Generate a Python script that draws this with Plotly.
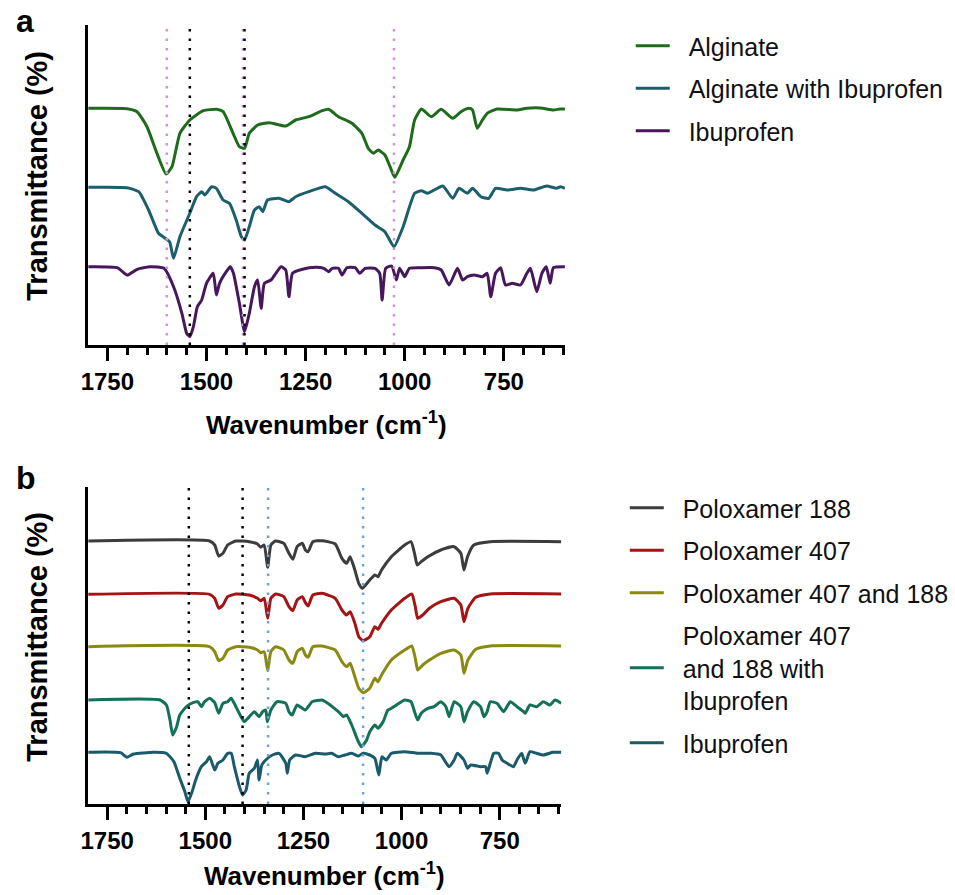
import plotly.graph_objects as go

# ---------------- Panel a data (wavenumber cm-1, offset transmittance, arbitrary units) -------------
alg_wn = [1800, 1700, 1675, 1650, 1625, 1602, 1587, 1567, 1542, 1508, 1475, 1458, 1433, 1417, 1404, 1392,
          1371, 1342, 1300, 1275, 1242, 1208, 1192, 1167, 1133, 1108, 1092, 1079, 1067, 1050, 1037, 1025,
          1004, 988, 975, 958, 933, 908, 879, 858, 838, 829, 817, 804, 792, 767, 717, 692, 658, 625, 608, 596]
alg_t = [236.7, 236.3, 233.3, 218.3, 191.7, 171, 178.3, 211.7, 225, 234.3, 235.7, 233.3, 211.7, 198.3, 196.7, 211.7,
         220, 222.3, 219, 225, 228.3, 234.3, 235.7, 228.3, 221.7, 211.7, 196.7, 191.7, 195, 190, 178.3, 167.7,
         185, 198.3, 225, 236, 228.3, 235.7, 226.7, 233.3, 236.7, 235, 216.7, 225, 231.7, 236, 235, 236.7, 237, 235, 236, 236]

algibu_wn = [1800, 1700, 1671, 1646, 1621, 1604, 1593, 1583, 1567, 1542, 1525, 1512, 1504, 1487, 1475, 1458,
             1442, 1425, 1412, 1404, 1392, 1379, 1367, 1358, 1346, 1317, 1292, 1275, 1242, 1200, 1175, 1142,
             1108, 1075, 1050, 1027, 1004, 975, 958, 942, 904, 879, 863, 842, 829, 808, 788, 771, 742, 708,
             675, 642, 617, 607, 596]
algibu_t = [157.7, 157.3, 153.3, 135, 111.7, 106.7, 103.3, 86.7, 108.3, 131.7, 148.3, 153.3, 150, 158.3, 156.7, 145,
            141.7, 125, 108.3, 105, 118.3, 135, 138.3, 133.3, 145, 146.7, 143.3, 148.3, 153.3, 158.3, 151.7, 143.3,
            131.7, 120, 113.3, 98.3, 118.3, 151.7, 154.3, 151.7, 159, 146.7, 156.7, 151.7, 156.7, 148.3, 146.7, 156.7,
            155, 156.7, 155, 159, 156.7, 158.3, 156.7]

ibu_a_wn = [1800, 1725, 1700, 1675, 1642, 1607, 1583, 1562, 1550, 1542, 1533, 1523, 1512, 1500, 1483, 1475,
            1467, 1450, 1440, 1432, 1417, 1404, 1392, 1379, 1371, 1362, 1354, 1337, 1325, 1312, 1300, 1292,
            1283, 1258, 1225, 1204, 1192, 1183, 1167, 1158, 1146, 1125, 1113, 1100, 1075, 1063, 1057, 1048,
            1033, 1021, 1013, 1000, 988, 958, 925, 908, 888, 867, 854, 842, 825, 804, 792, 783, 771, 758,
            746, 729, 708, 692, 683, 667, 654, 643, 633, 625, 596]
ibu_a_t = [78.3, 77.3, 70, 75.7, 78.3, 76.7, 58.3, 31.7, 11.7, 8.3, 18.3, 38.3, 45, 61.7, 71.7, 50,
           61.7, 73.3, 78.3, 71.7, 41.7, 13.3, 31.7, 58.3, 65, 36.7, 61.7, 65, 71.7, 78.3, 75, 48.3,
           71.7, 75.7, 77.7, 76.7, 73.3, 76.7, 76.7, 70, 77.3, 77.3, 71.7, 76.7, 76.7, 71.7, 45, 76.7,
           79, 65, 76.7, 68.3, 76.7, 77.3, 77.3, 75, 60, 76.7, 65, 68.3, 70, 68.3, 71.7, 48.3, 71.7, 77.3,
           60, 61.7, 60, 71.7, 76.7, 53.3, 71.7, 78.3, 61.7, 77.3, 78.3]

# reference lines (cm-1)
a_pink_lines = [1600, 1408, 1027]
a_black_lines = [1542, 1404]

# ---------------- Panel b data -------------
p188_wn = [1800, 1489, 1476, 1466, 1455, 1443, 1422, 1388, 1367, 1359, 1350, 1341, 1333, 1321, 1300, 1287,
           1277, 1266, 1253, 1245, 1238, 1226, 1203, 1169, 1152, 1140, 1131, 1119, 1109, 1100, 1081, 1068,
           1060, 1051, 1026, 992, 976, 967, 960, 950, 933, 900, 866, 849, 841, 832, 816, 774, 593]
p188_t = [263, 263, 259, 248, 250.7, 259, 263, 262.3, 260, 256.7, 259, 236.7, 259, 263, 260.7, 250.7,
          244.7, 257.3, 260.7, 254, 252.3, 262.3, 263.3, 260, 245.7, 240.7, 247.3, 234, 220.7, 215.7, 224, 229,
          227.3, 234, 247.3, 259, 262.3, 250.7, 239, 242.3, 247.3, 254, 257.3, 250.7, 234, 247.3, 259, 262.3, 262.3]

p407_wn = [1800, 1489, 1476, 1466, 1455, 1443, 1422, 1388, 1367, 1359, 1350, 1341, 1333, 1321, 1300, 1287,
           1277, 1266, 1253, 1245, 1238, 1226, 1203, 1169, 1152, 1140, 1131, 1119, 1109, 1098, 1081, 1068,
           1060, 1051, 1026, 992, 974, 965, 959, 946, 929, 900, 866, 849, 841, 831, 811, 774, 593]
p407_t = [209.7, 209.7, 205.7, 195.7, 199, 207.3, 210, 209, 205.7, 203.3, 205.7, 185.7, 205.7, 210, 207.3, 197.3,
          193.3, 204, 207.3, 201.3, 198, 209, 210.7, 205.7, 194, 189, 192.3, 180.7, 167.3, 163.3, 167.3, 177.3,
          174.7, 180.7, 194, 205.7, 210, 197.3, 185.7, 189, 195.7, 202.3, 205.7, 199, 182.3, 195.7, 206.7, 210, 210]

pmix_wn = [1800, 1489, 1476, 1466, 1455, 1443, 1422, 1388, 1367, 1359, 1350, 1341, 1333, 1321, 1300, 1287,
           1277, 1266, 1253, 1245, 1238, 1226, 1203, 1169, 1152, 1140, 1131, 1119, 1109, 1098, 1081, 1068,
           1060, 1051, 1026, 992, 974, 965, 959, 946, 929, 900, 866, 849, 841, 831, 811, 774, 593]
pmix_t = [157.3, 157.3, 152.3, 143.3, 145.7, 154, 157.3, 156.7, 154, 151.3, 152.3, 133.3, 152.3, 157.3, 154, 144,
          140.7, 152.3, 155.7, 149, 146.7, 157.3, 158, 154, 142.3, 137.3, 140.7, 127.3, 115.7, 111.3, 115.7, 125.7,
          122.3, 129, 144, 154, 158, 145.7, 134, 139, 144, 150.7, 154, 149, 130.7, 144, 154.7, 158, 158]

pmixibu_wn = [1800, 1615, 1599, 1590, 1583, 1573, 1565, 1548, 1531, 1519, 1510, 1502, 1489, 1476, 1466, 1455,
              1443, 1434, 1422, 1409, 1401, 1388, 1375, 1363, 1354, 1346, 1342, 1333, 1317, 1295, 1287, 1279,
              1266, 1245, 1228, 1203, 1194, 1161, 1148, 1140, 1127, 1110, 1102, 1089, 1081, 1068, 1060, 1047,
              1035, 1026, 1013, 992, 976, 967, 959, 950, 933, 917, 900, 887, 879, 866, 849, 841, 832, 816,
              799, 790, 782, 774, 757, 740, 723, 706, 689, 685, 673, 656, 639, 622, 609, 593]
pmixibu_t = [104, 104, 99, 84, 69, 77.3, 89, 97.3, 101.3, 102.3, 97.3, 102.3, 105.7, 101.3, 90.7, 100.7,
             102.3, 105.7, 97.3, 87.3, 82.3, 87.3, 92.3, 87.3, 92.3, 94, 82.3, 94, 102.3, 100.7, 92.3, 89,
             99, 94, 102.3, 104, 102.3, 92.3, 87.3, 89, 79, 62.3, 57.3, 64, 72.3, 79, 75.7, 82.3,
             94, 95.7, 99, 104, 102.3, 92.3, 84, 90.7, 95.7, 97.3, 102.3, 97.3, 87.3, 102.3, 97.3, 82.3, 92.3, 102.3,
             97.3, 87.3, 92.3, 102.3, 100.7, 92.3, 102.3, 97.3, 92.3, 90.7, 99, 97.3, 102.3, 99, 104, 100.7]

ibu_b_wn = [1800, 1716, 1700, 1683, 1632, 1599, 1580, 1565, 1552, 1544, 1535, 1523, 1510, 1497, 1489, 1476,
            1468, 1455, 1443, 1434, 1426, 1413, 1405, 1396, 1388, 1375, 1367, 1363, 1356, 1346, 1329, 1312,
            1295, 1291, 1285, 1270, 1245, 1220, 1194, 1178, 1161, 1144, 1127, 1110, 1098, 1081, 1068, 1058,
            1050, 1039, 1026, 992, 959, 925, 900, 879, 866, 858, 841, 832, 824, 799, 786, 782, 774, 765,
            753, 744, 731, 715, 706, 694, 685, 673, 656, 639, 614, 593]
ibu_b_t = [51.7, 51.3, 46.7, 50, 51.7, 50.7, 42.3, 25.7, 12.3, 2.3, 10.7, 25.7, 37.3, 42.3, 47.3, 34,
           40.7, 44, 50.7, 50.7, 37.3, 17.3, 9, 14, 30.7, 35.7, 44, 24, 39, 44, 49, 50.7,
           40.7, 30.7, 44, 49, 47.3, 50.7, 50, 50.7, 47.3, 49, 50.7, 48, 50.7, 49, 45.7, 29,
           47.3, 44, 50.7, 52.3, 50.7, 50.7, 49, 37.3, 44, 50.7, 44, 35.7, 39, 37.3, 37.3, 30.7, 40.7, 50.7,
           50.7, 44, 40.7, 37.3, 44, 50.7, 40.7, 52.3, 50.7, 49, 51.7, 51.7]

b_black_lines = [1542, 1405]
b_blue_lines = [1340, 1098]

major_ticks = [1750, 1500, 1250, 1000, 750]

# ---------------- Figure -------------
W, H = 955, 895
FONT = "Liberation Sans, Arial, Helvetica, sans-serif"


def px(xs):   # screen pixel -> paper fraction
    return xs / W


def py(ys):
    return 1 - ys / H


fig = go.Figure()

SP = "&nbsp;&nbsp;"
series_a = [
    ("Alginate", alg_wn, alg_t, "#1f6b1c"),
    ("Alginate with Ibuprofen", algibu_wn, algibu_t, "#1c5e6c"),
    ("Ibuprofen", ibu_a_wn, ibu_a_t, "#46175a"),
]
series_b = [
    ("Poloxamer 188", p188_wn, p188_t, "#3c3c3c"),
    ("Poloxamer 407", p407_wn, p407_t, "#a41414"),
    ("Poloxamer 407 and 188", pmix_wn, pmix_t, "#8a8a12"),
    ("Poloxamer 407<br>and 188 with<br>Ibuprofen", pmixibu_wn, pmixibu_t, "#15705a"),
    ("Ibuprofen", ibu_b_wn, ibu_b_t, "#1a5a6a"),
]


def legname(n):
    return "<br>".join(SP + part for part in n.split("<br>"))


for i, (name, xs, ys, c) in enumerate(series_a):
    fig.add_trace(go.Scatter(x=xs, y=ys, mode="lines", name=legname(name),
                             line=dict(color=c, width=3, shape="spline", smoothing=0.5),
                             xaxis="x", yaxis="y", legend="legend", legendgroup="a%d" % i))
for i, (name, xs, ys, c) in enumerate(series_b):
    fig.add_trace(go.Scatter(x=xs, y=ys, mode="lines", name=legname(name),
                             line=dict(color=c, width=3, shape="spline", smoothing=0.5),
                             xaxis="x2", yaxis="y2", legend="legend2", legendgroup="b%d" % i))


def vline(xv, color, xref, yref):
    fig.add_shape(type="line", xref=xref, yref=yref + " domain", x0=xv, x1=xv, y0=0, y1=1,
                  line=dict(color=color, width=2.5, dash="2.5px,7px"), layer="above")


for v in a_pink_lines:
    vline(v, "#cf92dd", "x", "y")
for v in a_black_lines:
    vline(v, "#000000", "x", "y")
for v in b_black_lines:
    vline(v, "#000000", "x2", "y2")
for v in b_blue_lines:
    vline(v, "#6ea2d6", "x2", "y2")

xa_common = dict(
    tickmode="array", tickvals=major_ticks, ticktext=[str(t) for t in major_ticks],
    ticks="outside", ticklen=13, tickwidth=3, tickcolor="black",
    showline=True, linewidth=3, linecolor="black", showgrid=False, zeroline=False,
    tickfont=dict(family=FONT, size=24, color="black", weight="bold"),
    ticklabelstandoff=0,
    minor=dict(tick0=0, dtick=50, ticks="outside", ticklen=7, tickwidth=3, tickcolor="black", showgrid=False),
)
ya_common = dict(showline=True, linewidth=2.5, linecolor="black", showticklabels=False, ticks="",
                 showgrid=False, zeroline=False)

leg_common = dict(xanchor="left", yanchor="top", font=dict(family=FONT, size=25, color="#111"),
                  bgcolor="rgba(0,0,0,0)", traceorder="grouped", tracegroupgap=7, itemwidth=34)

fig.update_layout(
    width=W, height=H, margin=dict(l=0, r=0, t=0, b=0),
    paper_bgcolor="white", plot_bgcolor="white",
    font=dict(family=FONT, color="black"),
    xaxis=dict(domain=[px(81), px(562)], range=[1798, 595], anchor="y", **xa_common),
    yaxis=dict(domain=[py(345), py(25)], range=[0, 320], anchor="x", **ya_common),
    xaxis2=dict(domain=[px(81), px(558)], range=[1798, 593], anchor="y2", **xa_common),
    yaxis2=dict(domain=[py(804), py(487)], range=[0, 317], anchor="x2", **ya_common),
    legend=dict(x=px(628), y=py(23), **leg_common),
    legend2=dict(x=px(622), y=py(485), **leg_common),
    showlegend=True,
)

bold = dict(family=FONT, color="black", weight="bold")
ann = [
    dict(text="Transmittance (%)", x=px(29), y=py(176), textangle=-90, font=dict(size=29, **bold)),
    dict(text="Transmittance (%)", x=px(29), y=py(637), textangle=-90, font=dict(size=29, **bold)),
    dict(text="Wavenumber (cm<sup>-1</sup>)", x=px(321), y=py(424), font=dict(size=26, **bold)),
    dict(text="Wavenumber (cm<sup>-1</sup>)", x=px(319), y=py(874), font=dict(size=26, **bold)),
    dict(text="a", x=px(17), y=py(21), font=dict(size=32, **bold)),
    dict(text="b", x=px(18), y=py(478), font=dict(size=32, **bold)),
]
for a in ann:
    a.update(xref="paper", yref="paper", showarrow=False, xanchor="center", yanchor="middle")
    fig.add_annotation(**a)

fig.write_html("out.html", config={"displayModeBar": False},
               post_script="document.body.style.margin='0px';")
